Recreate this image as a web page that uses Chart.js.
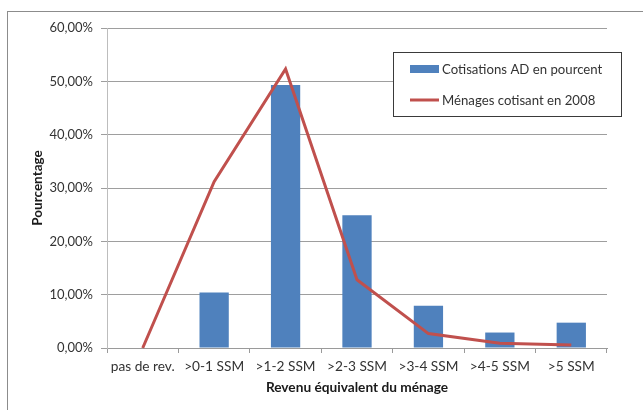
<!DOCTYPE html>
<html>
<head>
<meta charset="utf-8">
<script src="https://cdn.jsdelivr.net/npm/chart.js@4/dist/chart.umd.min.js"></script>
<style>
  html, body { margin: 0; padding: 0; background: #fff; overflow: hidden; }
  #wrap { position: relative; width: 643px; height: 410px; }
  #frame { position: absolute; left: 7px; top: 11px; width: 700px; height: 460px; border: 1px solid #8c8c8c; box-sizing: border-box; }
  canvas { position: absolute; left: 0; top: 0; }
</style>
</head>
<body>
<div id="wrap">
  <div id="frame"></div>
  <canvas id="c" width="643" height="410"></canvas>
</div>
<script>
// Income brackets (monthly minimum wage multiples)
const categories = ['pas de rev.', '>0-1 SSM', '>1-2 SSM', '>2-3 SSM', '>3-4 SSM', '>4-5 SSM', '>5 SSM'];
// Share of contributions per bracket, in percent
const cotisations = [0, 10.4, 49.3, 24.9, 7.9, 2.9, 4.75];
// Share of contributing households in 2008, in percent
const menages = [0, 31.2, 52.3, 12.8, 2.7, 0.87, 0.56];
// Value axis ticks, in percent
const yTicks = [0, 10, 20, 30, 40, 50, 60];

const FONT = 'Lato, "Open Sans", sans-serif';
const TEXT = '#333333';

// Boxed legend drawn inside the plot, top right
const boxLegend = {
  id: 'boxLegend',
  afterDraw(chart) {
    const ctx = chart.ctx;
    const x = 393.5, y = 52.5, w = 228, h = 64;
    ctx.save();
    ctx.fillStyle = '#fff';
    ctx.fillRect(x, y, w, h);
    ctx.strokeStyle = '#3a3a3a';
    ctx.lineWidth = 1;
    ctx.strokeRect(x, y, w, h);
    ctx.font = '13.2px ' + FONT;
    ctx.textBaseline = 'middle';
    ctx.textAlign = 'left';
    const barDs = chart.data.datasets[0];
    const lineDs = chart.data.datasets[1];
    // bar swatch
    ctx.fillStyle = barDs.backgroundColor;
    ctx.fillRect(410, 65, 29, 8);
    ctx.fillStyle = TEXT;
    ctx.fillText(barDs.label, 442, 69.5);
    // line swatch
    ctx.strokeStyle = lineDs.borderColor;
    ctx.lineWidth = 3;
    ctx.beginPath();
    ctx.moveTo(410, 100);
    ctx.lineTo(439, 100);
    ctx.stroke();
    ctx.fillText(lineDs.label, 442, 100.5);
    ctx.restore();
  }
};

new Chart(document.getElementById('c'), {
  data: {
    labels: categories,
    datasets: [
      {
        type: 'bar',
        label: 'Cotisations AD en pourcent',
        data: cotisations,
        backgroundColor: '#4F81BD',
        borderWidth: 0,
        categoryPercentage: 1,
        barPercentage: 0.41,
        order: 2
      },
      {
        type: 'line',
        label: 'Ménages cotisant en 2008',
        data: menages,
        borderColor: '#C0504D',
        backgroundColor: '#C0504D',
        borderWidth: 3,
        pointRadius: 0,
        tension: 0,
        clip: false,
        order: 1
      }
    ]
  },
  options: {
    responsive: false,
    animation: false,
    layout: { padding: { left: 0, top: 28, right: 36, bottom: 0 } },
    plugins: {
      legend: { display: false },
      tooltip: { enabled: false }
    },
    scales: {
      x: {
        offset: true,
        grid: {
          offset: true,
          drawOnChartArea: false,
          drawTicks: true,
          tickLength: 5,
          color: '#9a9a9a'
        },
        border: { color: '#9a9a9a' },
        ticks: {
          color: TEXT,
          font: { family: FONT, size: 13.7 },
          padding: 5,
          maxRotation: 0
        },
        title: {
          display: true,
          text: 'Revenu équivalent du ménage',
          color: '#1a1a1a',
          font: { family: FONT, size: 13.7, weight: 'bold' },
          padding: { top: 0, bottom: 14 }
        },
        afterFit(scale) { scale.height = 62; }
      },
      y: {
        min: 0,
        max: 60,
        afterBuildTicks(scale) { scale.ticks = yTicks.map(v => ({ value: v })); },
        grid: {
          color: '#9e9e9e',
          tickLength: 6,
          drawTicks: true
        },
        border: { color: '#bdbdbd' },
        ticks: {
          color: TEXT,
          font: { family: FONT, size: 13 },
          padding: 8,
          callback: v => v.toFixed(2).replace('.', ',') + '%'
        },
        title: {
          display: true,
          text: 'Pourcentage',
          color: '#1a1a1a',
          font: { family: FONT, size: 13.5, weight: 'bold' },
          padding: { top: 30, bottom: 0 }
        },
        afterFit(scale) { scale.width = 107; }
      }
    }
  },
  plugins: [boxLegend]
});
</script>
</body>
</html>
